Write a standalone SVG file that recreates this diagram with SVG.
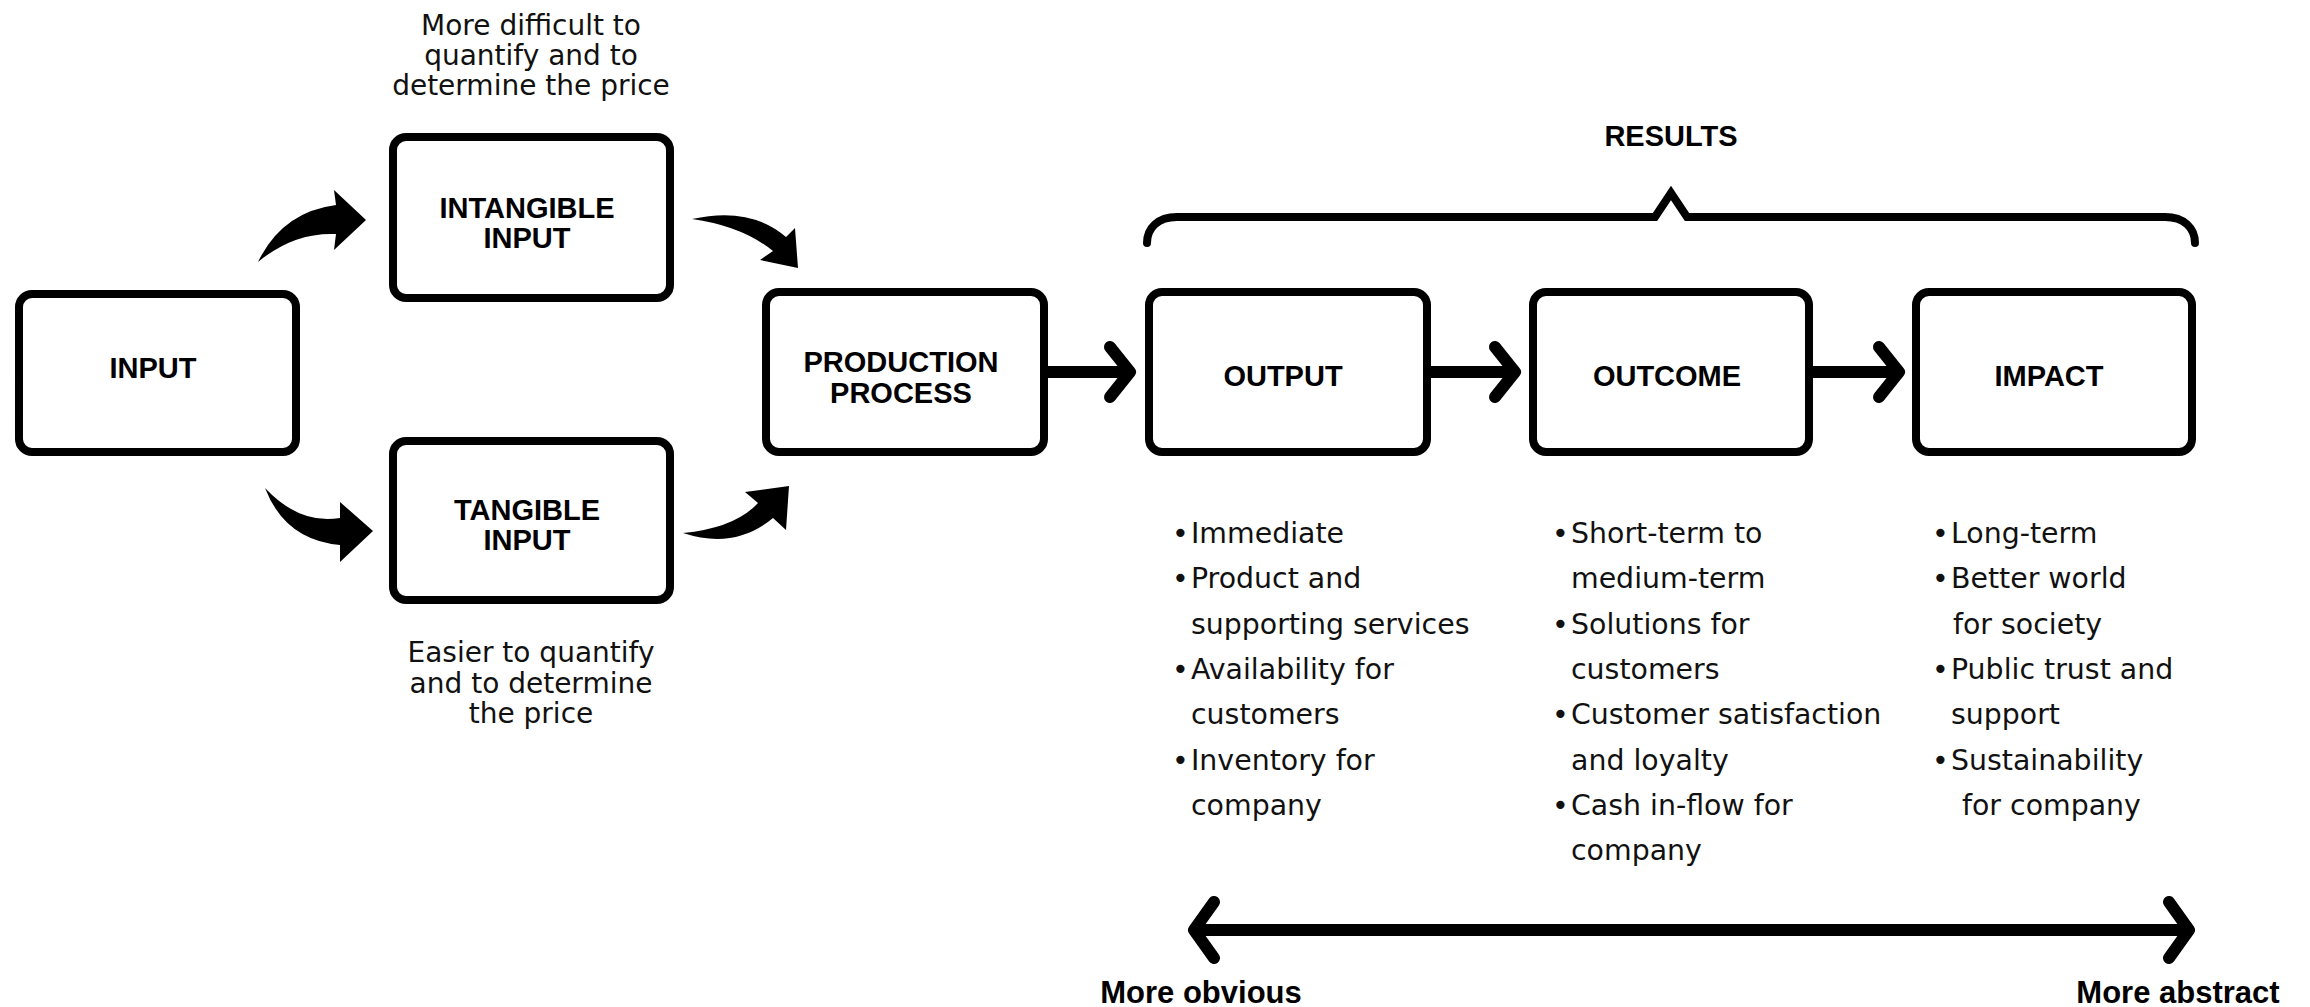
<svg xmlns="http://www.w3.org/2000/svg" width="2310" height="1007" viewBox="0 0 2310 1007">
<style>
.box{fill:#fff;stroke:#000;stroke-width:8}
.lbl{font-family:"Liberation Sans",Arial,sans-serif;font-weight:bold;font-size:29px;fill:#000;text-anchor:middle}
.note{font-family:"DejaVu Sans","Liberation Sans",sans-serif;font-size:28px;fill:#111;text-anchor:middle}
.bul{font-family:"DejaVu Sans","Liberation Sans",sans-serif;font-size:28.4px;fill:#111}
.ln{fill:none;stroke:#000;stroke-width:12;stroke-linecap:round;stroke-linejoin:round}
.brace{fill:none;stroke:#000;stroke-width:8;stroke-linecap:round;stroke-linejoin:miter}
.sw{fill:#000}
</style>
<rect width="2310" height="1007" fill="#fff"/>

<g id="connectors">
  <path class="sw" d="M258,262 Q282,212 336,205 L334,190 L366,220 L334,250 L336,234 Q294,232 258,262 Z"/>
  <path class="sw" d="M692,219 Q750,206 786,237 L795,228 L798,268 L760,260 L773,251 Q742,226 692,219 Z"/>
  <path class="sw" d="M265,488 Q300,525 340,518 L340,502 L373,531 L340,562 L340,545 Q285,540 265,488 Z"/>
  <path class="sw" d="M683,533 Q735,528 758,503 L745,492 L789,486 L786,530 L773,518 Q735,550 683,533 Z"/>
  <path class="ln" d="M1048,372 L1128,372 M1110,347 L1130,372 L1110,397"/>
  <path class="ln" d="M1431,372 L1513,372 M1495,347 L1515,372 L1495,397"/>
  <path class="ln" d="M1813,372 L1897,372 M1879,347 L1899,372 L1879,397"/>
  <path class="brace" d="M1147,243 C1147,228 1158,217 1177,217 L1655,217 L1671,193 L1687,217 L2165,217 C2184,217 2195,228 2195,243"/>
  <path class="ln" d="M1196,930 L2187,930 M1214,902 L1194,930 L1214,958 M2169,902 L2189,930 L2169,958"/>
</g>

<g id="input">
  <rect class="box" x="19" y="294" width="277" height="158" rx="13"/>
  <text class="lbl" x="153" y="378">INPUT</text>
</g>
<g id="intangible">
  <rect class="box" x="393" y="137" width="277" height="161" rx="13"/>
  <text class="lbl" x="527" y="218">INTANGIBLE</text>
  <text class="lbl" x="527" y="248">INPUT</text>
</g>
<g id="tangible">
  <rect class="box" x="393" y="441" width="277" height="159" rx="13"/>
  <text class="lbl" x="527" y="520">TANGIBLE</text>
  <text class="lbl" x="527" y="550">INPUT</text>
</g>
<g id="production">
  <rect class="box" x="766" y="292" width="278" height="160" rx="13"/>
  <text class="lbl" x="901" y="372">PRODUCTION</text>
  <text class="lbl" x="901" y="403">PROCESS</text>
</g>
<g id="output">
  <rect class="box" x="1149" y="292" width="278" height="160" rx="13"/>
  <text class="lbl" x="1283" y="386">OUTPUT</text>
</g>
<g id="outcome">
  <rect class="box" x="1533" y="292" width="276" height="160" rx="13"/>
  <text class="lbl" x="1667" y="386">OUTCOME</text>
</g>
<g id="impact">
  <rect class="box" x="1916" y="292" width="276" height="160" rx="13"/>
  <text class="lbl" x="2049" y="386">IMPACT</text>
</g>

<g id="notes">
  <text class="note" x="531" y="35">More difficult to</text>
  <text class="note" x="531" y="65">quantify and to</text>
  <text class="note" x="531" y="95">determine the price</text>
  <text class="note" x="531" y="662">Easier to quantify</text>
  <text class="note" x="531" y="693">and to determine</text>
  <text class="note" x="531" y="723">the price</text>
  <text class="lbl" x="1671" y="146">RESULTS</text>
  <text class="lbl" x="1201" y="1003" style="font-size:31px">More obvious</text>
  <text class="lbl" x="2178" y="1003" style="font-size:31px">More abstract</text>
</g>

<g id="output-list" class="bul">
  <text x="1172" y="543">•</text><text x="1191" y="543">Immediate</text>
  <text x="1172" y="588">•</text><text x="1191" y="588">Product and</text>
  <text x="1191" y="634">supporting services</text>
  <text x="1172" y="679">•</text><text x="1191" y="679">Availability for</text>
  <text x="1191" y="724">customers</text>
  <text x="1172" y="770">•</text><text x="1191" y="770">Inventory for</text>
  <text x="1191" y="815">company</text>
</g>
<g id="outcome-list" class="bul">
  <text x="1552" y="543">•</text><text x="1571" y="543">Short-term to</text>
  <text x="1571" y="588">medium-term</text>
  <text x="1552" y="634">•</text><text x="1571" y="634">Solutions for</text>
  <text x="1571" y="679">customers</text>
  <text x="1552" y="724">•</text><text x="1571" y="724">Customer satisfaction</text>
  <text x="1571" y="770">and loyalty</text>
  <text x="1552" y="815">•</text><text x="1571" y="815">Cash in-flow for</text>
  <text x="1571" y="860">company</text>
</g>
<g id="impact-list" class="bul">
  <text x="1932" y="543">•</text><text x="1951" y="543">Long-term</text>
  <text x="1932" y="588">•</text><text x="1951" y="588">Better world</text>
  <text x="1953" y="634">for society</text>
  <text x="1932" y="679">•</text><text x="1951" y="679">Public trust and</text>
  <text x="1951" y="724">support</text>
  <text x="1932" y="770">•</text><text x="1951" y="770">Sustainability</text>
  <text x="1962" y="815">for company</text>
</g>
</svg>
